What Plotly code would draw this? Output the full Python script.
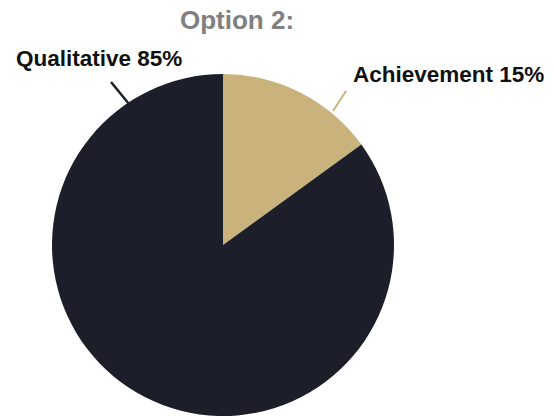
import plotly.graph_objects as go

# ---- data ----
labels = ["Achievement", "Qualitative"]
values = [15, 85]
colors = ["#c9b27b", "#1c1e2a"]
title_text = "Option 2:"

W, H = 554, 420

def px(x):
    return x / W

def py(y):
    return 1 - y / H

fig = go.Figure(
    go.Pie(
        labels=labels,
        values=values,
        sort=False,
        direction="clockwise",
        rotation=0,
        marker=dict(colors=colors, line=dict(width=0)),
        textinfo="none",
        hoverinfo="label+percent",
        domain=dict(x=[px(52), px(394)], y=[py(416), py(74)]),
        showlegend=False,
    )
)

label_font = dict(family="Liberation Sans, Arial, sans-serif", size=22.5, color="#111111")

annotations = [
    dict(text=f"<b>{title_text}</b>", x=px(237), y=py(20), xref="paper", yref="paper",
         xanchor="center", yanchor="middle", showarrow=False,
         font=dict(family="Liberation Sans, Arial, sans-serif", size=26, color="#808080")),
    dict(text=f"<b>{labels[1]} {values[1]}%</b>", x=px(14), y=py(59), xref="paper", yref="paper",
         xanchor="left", yanchor="middle", showarrow=False, font=label_font),
    dict(text=f"<b>{labels[0]} {values[0]}%</b>", x=px(351), y=py(74), xref="paper", yref="paper",
         xanchor="left", yanchor="middle", showarrow=False, font=label_font),
]

shapes = [
    dict(type="line", xref="paper", yref="paper", x0=px(111), y0=py(82), x1=px(129), y1=py(104),
         line=dict(color=colors[1], width=2.5)),
    dict(type="line", xref="paper", yref="paper", x0=px(346), y0=py(91), x1=px(333), y1=py(111),
         line=dict(color=colors[0], width=2)),
]

fig.update_layout(
    width=W, height=H,
    margin=dict(l=0, r=0, t=0, b=0),
    paper_bgcolor="white",
    plot_bgcolor="white",
    annotations=annotations,
    shapes=shapes,
)

fig.write_html(
    "out.html",
    config={"displayModeBar": False},
    post_script="document.body.style.margin='0';document.body.style.overflow='hidden';",
)
